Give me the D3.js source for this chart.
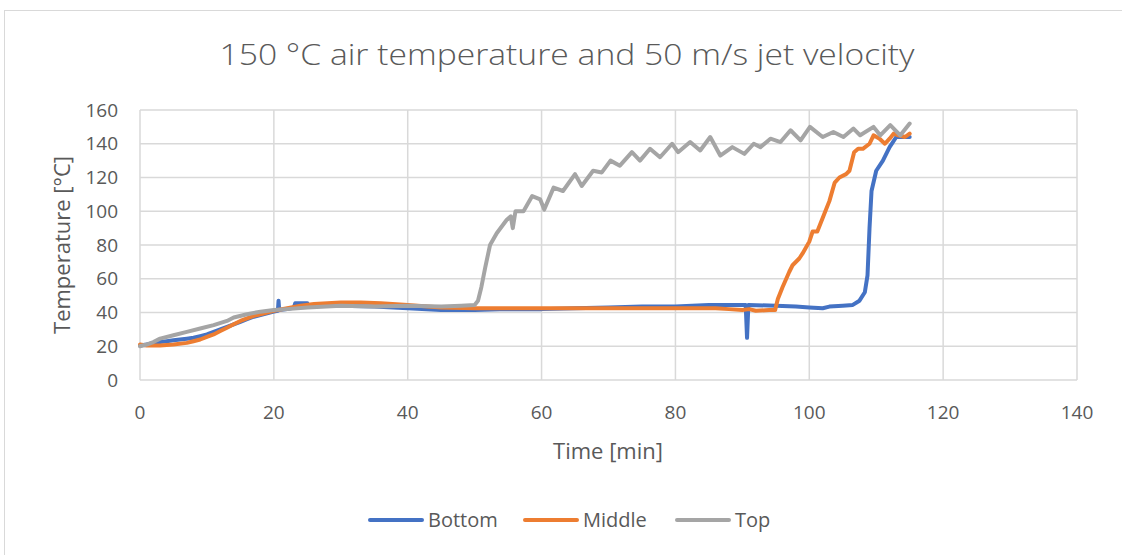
<!DOCTYPE html>
<html>
<head>
<meta charset="utf-8">
<script src="https://cdn.jsdelivr.net/npm/d3@7"></script>
<style>
  body { margin: 0; background: #fff; }
  svg { display: block; font-family: "Open Sans", "Liberation Sans", sans-serif; }
</style>
</head>
<body>
<svg id="svg"></svg>
<script>
const width = 1122, height = 555;

const title = "150 °C air temperature and 50 m/s jet velocity";
const xTicks = [0, 20, 40, 60, 80, 100, 120, 140];
const yTicks = [0, 20, 40, 60, 80, 100, 120, 140, 160];
const seriesNames = ["Bottom", "Middle", "Top"];
const seriesColors = ["#4472C4", "#ED7D31", "#A5A5A5"];

// [time min, temperature °C]
const bottom = [[0,20.5],[1,21],[2,22],[3,22.5],[4,23],[5,23.5],[6,24],[7,24.5],[8,25],[9,26],[10,27],[11,28.5],[12,30],[13,31.5],[14,33],[15,34.5],[16,36],[17,37.5],[18,38.5],[19,39.5],[20,40.5],[20.6,41],[20.7,47],[20.8,41.5],[22,42],[23,43],[23.2,45.5],[25,45.5],[25.2,43.5],[28,44],[30,44],[35,43.5],[40,42.5],[45,41.5],[50,41.5],[55,42],[60,42],[65,42.5],[70,43],[75,43.5],[80,43.5],[85,44.5],[88,44.5],[90.5,44.5],[90.7,25],[90.9,44.5],[95,44],[98,43.5],[100,43],[102,42.5],[103,43.5],[105,44],[106.5,44.5],[107.5,47],[108.3,52],[108.7,62],[109,90],[109.3,112],[110,124],[111,130],[112,138],[113,144],[114,144],[115,144]];

const middle = [[0,21],[1,20.5],[3,20.5],[5,21],[7,22],[8,23],[9,24],[10,25.5],[11,27],[12,29],[13,31],[14,33],[15,35],[16,36.5],[17,38],[18,39],[19,40],[20,41],[22,42.5],[24,44],[26,45],[28,45.5],[30,46],[33,46],[36,45.5],[40,44.5],[45,43],[50,42.5],[60,42.5],[70,42.5],[80,42.5],[86,42.5],[88,42],[90,41.5],[91,42],[92,41],[94,41.5],[94.9,41.5],[95.3,48],[96,55],[97,64],[97.5,68],[98.5,72],[99,75],[100,82],[100.5,88],[101.2,88],[102,96],[103,106],[103.8,117],[104.5,120],[105.5,122],[106,124],[106.7,135],[107.3,137],[108,137],[109,140],[109.6,145],[110.5,143],[111.3,140],[112,143],[112.6,146],[113.3,145],[114.3,144],[115,146]];

const top_ = [[0,20],[1,21],[2,22.5],[3,24.5],[5,26.5],[7,28.5],[9,30.5],[11,32.5],[13,35],[14,37],[16,39],[18,40.5],[20,41.5],[22,42],[25,43],[30,44],[35,43.5],[40,44],[45,43.5],[48,44],[50,44.5],[50.5,47],[51,55],[51.6,67],[52.3,80],[53.3,87],[54.8,95],[55.4,97],[55.7,90],[56.1,100],[57.3,100],[58.6,109],[59.8,107],[60.4,101],[61.8,114],[63.2,112],[65,122],[66,115],[67.7,124],[69,123],[70.3,130],[71.7,127],[73.5,135],[74.7,130],[76.2,137],[77.7,132],[79.5,140],[80.4,135],[82.2,141],[83.7,136],[85.2,144],[86.7,133],[88.5,138],[90.3,134],[91.7,140],[92.7,138],[94.2,143],[95.7,141],[97.2,148],[98.7,142],[100.1,150],[102,144],[103.6,147],[105.1,144],[106.6,149],[107.6,145],[109.6,150],[110.6,145],[112.1,151],[113.6,145],[115,152]];

const seriesData = [bottom, middle, top_];

const margin = { left: 140, right: 1077, top: 110, bottom: 380 };

const svg = d3.select("#svg").attr("width", width).attr("height", height);

// chart frame
svg.append("rect")
    .attr("x", 4.5).attr("y", 10.5)
    .attr("width", 1140).attr("height", 600)
    .attr("fill", "#fff").attr("stroke", "#d9d9d9");

const x = d3.scaleLinear().domain([0, 140]).range([margin.left, margin.right]);
const y = d3.scaleLinear().domain([0, 160]).range([margin.bottom, margin.top]);

// grid
svg.append("g").selectAll("line").data(yTicks).enter().append("line")
    .attr("x1", margin.left).attr("x2", margin.right)
    .attr("y1", d => y(d)).attr("y2", d => y(d))
    .attr("stroke", "#d9d9d9").attr("stroke-width", 1.5);
svg.append("g").selectAll("line").data(xTicks).enter().append("line")
    .attr("y1", margin.top).attr("y2", margin.bottom)
    .attr("x1", d => x(d)).attr("x2", d => x(d))
    .attr("stroke", "#d9d9d9").attr("stroke-width", 1.5);

// tick labels
svg.append("g").selectAll("text").data(yTicks).enter().append("text")
    .attr("x", 118).attr("y", d => y(d))
    .attr("dy", "0.35em").attr("text-anchor", "end")
    .attr("font-size", 19).attr("fill", "#595959")
    .text(d => d);
svg.append("g").selectAll("text").data(xTicks).enter().append("text")
    .attr("x", d => x(d)).attr("y", 412)
    .attr("dy", "0.35em").attr("text-anchor", "middle")
    .attr("font-size", 19).attr("fill", "#595959")
    .text(d => d);

// axis titles
svg.append("text")
    .attr("x", 608).attr("y", 451).attr("dy", "0.35em")
    .attr("text-anchor", "middle").attr("font-size", 22).attr("fill", "#595959")
    .text("Time [min]");
svg.append("text")
    .attr("transform", "translate(62,245) rotate(-90)")
    .attr("dy", "0.35em")
    .attr("text-anchor", "middle").attr("font-size", 22).attr("fill", "#595959")
    .text("Temperature [°C]");

// title
svg.append("text")
    .attr("x", 567).attr("y", 65)
    .attr("text-anchor", "middle").attr("font-size", 29).attr("font-weight", 300)
    .attr("textLength", 695).attr("lengthAdjust", "spacingAndGlyphs")
    .attr("fill", "#595959")
    .text(title);

// lines
const line = d3.line().x(d => x(d[0])).y(d => y(d[1]));
svg.append("g").selectAll("path").data(seriesData).enter().append("path")
    .attr("d", line)
    .attr("fill", "none")
    .attr("stroke", (d, i) => seriesColors[i])
    .attr("stroke-width", 4)
    .attr("stroke-linejoin", "round")
    .attr("stroke-linecap", "round");

// legend
const legendX = [370, 525, 677];
const legend = svg.append("g").selectAll("g").data(seriesNames).enter().append("g")
    .attr("transform", (d, i) => `translate(${legendX[i]},520)`);
legend.append("line")
    .attr("x1", 0).attr("x2", 52).attr("y1", 0).attr("y2", 0)
    .attr("stroke", (d, i) => seriesColors[i])
    .attr("stroke-width", 4).attr("stroke-linecap", "round");
legend.append("text")
    .attr("x", 58).attr("dy", "0.35em")
    .attr("font-size", 20).attr("fill", "#595959")
    .text(d => d);
</script>
</body>
</html>
